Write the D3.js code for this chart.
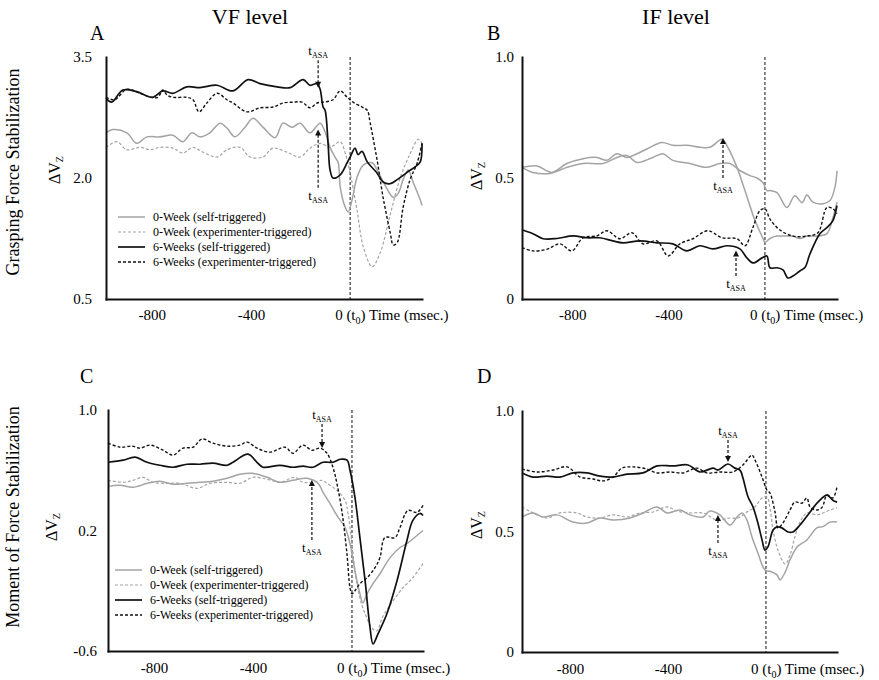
<!DOCTYPE html>
<html>
<head>
<meta charset="utf-8">
<script src="https://cdn.jsdelivr.net/npm/d3@7"></script>
<style>
    body { margin: 0; background: #fff; }
    svg, svg text, svg tspan { font-family: 'Liberation Serif', 'Times New Roman', Times, serif !important; }
    svg text { fill: #000; }
</style>
</head>
<body>
<svg id="chart" width="879" height="680" font-family="Liberation Serif, Times New Roman, serif"></svg>
<script>
// ---- data (time in msec, value in ΔVz units) ----
const columnTitles = ["VF level", "IF level"];
const rowTitles = ["Grasping Force Stabilization", "Moment of Force Stabilization"];
const panelLetters = ["A", "B", "C", "D"];
const legendLabels = ["0-Week (self-triggered)", "0-Week (experimenter-triggered)",
                      "6-Weeks (self-triggered)", "6-Weeks (experimenter-triggered)"];
const xTicks = [-800, -400];
const yTicksA = [0.5, 2.0, 3.5];
const yTicksB = [0, 0.5, 1.0];
const yTicksC = [-0.6, 0.2, 1.0];
const yTicksD = [0, 0.5, 1.0];

// panel A: VF level, grasping force
const aSelf0 = [[-985,2.56],[-958,2.6],[-901,2.56],[-861,2.43],[-820,2.51],[-768,2.51],[-715,2.53],[-675,2.45],[-638,2.56],[-606,2.51],[-566,2.56],[-525,2.68],[-497,2.62],[-465,2.51],[-424,2.63],[-392,2.74],[-352,2.63],[-303,2.5],[-271,2.68],[-234,2.63],[-202,2.68],[-162,2.56],[-121,2.68],[-101,2.57],[-81,2.38],[-61,2.26],[-48,2.19],[-40,1.89],[-20,1.64],[-8,1.58],[8,1.73],[28,2.01],[53,2.16],[89,2.19],[109,2.1],[141,1.91],[174,1.76],[194,1.81],[214,1.98],[234,2.1],[255,1.94],[283,1.73],[290,1.66]];
const aExp0 = [[-985,2.38],[-941,2.45],[-901,2.35],[-848,2.38],[-808,2.35],[-768,2.38],[-715,2.37],[-675,2.31],[-634,2.38],[-594,2.32],[-537,2.26],[-497,2.35],[-444,2.38],[-404,2.26],[-352,2.26],[-311,2.37],[-255,2.32],[-202,2.26],[-162,2.37],[-121,2.43],[-81,2.38],[-40,2.45],[-20,2.31],[0,2.06],[28,1.6],[53,1.15],[89,0.9],[121,1.07],[162,1.55],[202,2.0],[242,2.3],[275,2.48],[290,2.43]];
const aSelf6 = [[-985,2.99],[-962,2.94],[-917,3.09],[-861,3.07],[-796,3.0],[-756,3.08],[-715,3.05],[-659,3.13],[-606,3.12],[-537,3.15],[-473,3.08],[-412,3.22],[-364,3.17],[-295,3.13],[-242,3.12],[-190,3.22],[-162,3.15],[-133,3.17],[-121,3.1],[-109,2.88],[-101,2.84],[-89,2.43],[-81,2.1],[-69,2.0],[-40,2.04],[-12,2.19],[0,2.26],[20,2.37],[32,2.29],[48,2.33],[69,2.2],[109,2.06],[133,1.95],[162,1.93],[190,1.98],[230,2.07],[263,2.14],[283,2.2],[290,2.43]];
const aExp6 = [[-985,3.0],[-950,2.97],[-901,3.1],[-848,3.05],[-800,3.0],[-776,3.0],[-756,3.09],[-739,3.03],[-715,3.0],[-659,3.0],[-634,2.97],[-610,2.82],[-578,2.93],[-537,3.05],[-497,2.97],[-473,2.93],[-416,2.82],[-364,2.87],[-311,2.88],[-271,2.93],[-230,2.94],[-194,2.94],[-162,2.87],[-133,2.93],[-109,2.94],[-69,2.97],[-40,3.08],[-12,3.0],[12,2.94],[48,2.88],[69,2.84],[81,2.68],[109,2.22],[133,1.76],[162,1.32],[174,1.17],[190,1.2],[214,1.64],[242,1.98],[271,2.19],[290,2.43]];

// panel B: IF level, grasping force
const bSelf0 = [[-1008,0.544],[-946,0.55],[-884,0.523],[-822,0.56],[-755,0.58],[-697,0.585],[-656,0.573],[-614,0.6],[-573,0.585],[-531,0.6],[-490,0.62],[-427,0.647],[-382,0.635],[-324,0.635],[-270,0.627],[-228,0.627],[-178,0.66],[-154,0.627],[-116,0.544],[-83,0.448],[-41,0.324],[-8,0.25],[0,0.235],[21,0.25],[50,0.26],[91,0.26],[116,0.26],[145,0.25],[174,0.26],[216,0.26],[257,0.27],[282,0.336],[299,0.4]];
const bExp0 = [[-1008,0.544],[-963,0.523],[-892,0.519],[-822,0.544],[-755,0.56],[-672,0.56],[-614,0.585],[-573,0.593],[-531,0.564],[-465,0.585],[-423,0.6],[-382,0.573],[-311,0.56],[-241,0.544],[-187,0.56],[-145,0.56],[-104,0.531],[-62,0.51],[-33,0.5],[-8,0.48],[8,0.448],[21,0.448],[50,0.44],[91,0.378],[124,0.427],[154,0.398],[174,0.43],[199,0.4],[241,0.394],[270,0.407],[290,0.46],[299,0.53]];
const bSelf6 = [[-1008,0.286],[-963,0.27],[-921,0.249],[-863,0.25],[-797,0.261],[-739,0.253],[-685,0.253],[-631,0.24],[-589,0.232],[-519,0.24],[-448,0.232],[-382,0.228],[-324,0.199],[-270,0.22],[-216,0.207],[-158,0.22],[-104,0.207],[-75,0.17],[-50,0.149],[-12,0.17],[8,0.178],[21,0.129],[50,0.129],[75,0.12],[95,0.087],[116,0.095],[145,0.116],[166,0.13],[187,0.187],[228,0.27],[257,0.295],[282,0.324],[299,0.386]];
const bExp6 = [[-1008,0.212],[-963,0.199],[-905,0.205],[-851,0.228],[-801,0.199],[-755,0.253],[-697,0.261],[-656,0.282],[-602,0.249],[-552,0.274],[-506,0.228],[-448,0.24],[-402,0.178],[-353,0.228],[-299,0.249],[-237,0.282],[-178,0.253],[-116,0.249],[-83,0.22],[-50,0.295],[-21,0.365],[0,0.373],[21,0.33],[62,0.285],[116,0.26],[174,0.26],[220,0.274],[257,0.378],[282,0.373],[299,0.353]];

// panel C: VF level, moment of force
const cSelf0 = [[-986,0.493],[-937,0.5],[-885,0.487],[-828,0.513],[-776,0.527],[-723,0.507],[-667,0.513],[-614,0.52],[-562,0.527],[-505,0.547],[-453,0.573],[-404,0.58],[-343,0.553],[-291,0.52],[-238,0.533],[-182,0.547],[-137,0.513],[-117,0.453],[-89,0.38],[-61,0.3],[-28,0.22],[-8,0.113],[12,-0.067],[32,-0.22],[44,-0.28],[61,-0.22],[85,-0.153],[113,-0.087],[154,0.02],[194,0.087],[222,0.113],[263,0.167],[287,0.2]];
const cExp0 = [[-986,0.533],[-925,0.52],[-885,0.533],[-844,0.553],[-804,0.52],[-747,0.513],[-695,0.513],[-626,0.48],[-574,0.513],[-505,0.52],[-453,0.513],[-400,0.553],[-343,0.54],[-291,0.52],[-230,0.553],[-198,0.52],[-158,0.52],[-121,0.533],[-101,0.513],[-61,0.467],[-28,0.4],[-16,0.313],[0,0.113],[12,-0.067],[32,-0.247],[53,-0.353],[81,-0.447],[100,-0.467],[125,-0.37],[166,-0.267],[206,-0.18],[246,-0.113],[287,-0.02]];
const cSelf6 = [[-986,0.653],[-925,0.667],[-877,0.687],[-828,0.653],[-776,0.633],[-723,0.62],[-667,0.64],[-614,0.64],[-562,0.647],[-505,0.633],[-481,0.653],[-420,0.707],[-384,0.653],[-360,0.62],[-291,0.633],[-238,0.62],[-198,0.627],[-158,0.62],[-117,0.653],[-77,0.653],[-48,0.673],[-20,0.667],[-8,0.6],[12,0.42],[32,0.153],[53,-0.133],[73,-0.447],[85,-0.553],[105,-0.487],[141,-0.353],[182,-0.133],[222,0.133],[246,0.267],[275,0.313],[287,0.3]];
const cExp6 = [[-986,0.78],[-937,0.753],[-889,0.76],[-857,0.747],[-816,0.767],[-764,0.733],[-723,0.7],[-683,0.747],[-642,0.753],[-606,0.807],[-562,0.78],[-505,0.76],[-453,0.767],[-424,0.787],[-384,0.747],[-331,0.72],[-271,0.753],[-238,0.713],[-198,0.767],[-162,0.733],[-129,0.747],[-101,0.713],[-77,0.62],[-61,0.513],[-40,0.32],[-20,0.04],[-8,-0.18],[0,-0.22],[12,-0.2],[32,-0.153],[61,-0.113],[93,-0.047],[113,0.02],[133,0.153],[174,0.153],[194,0.22],[226,0.333],[263,0.32],[287,0.367]];

// panel D: IF level, moment of force
const dSelf0 = [[-996,0.56],[-951,0.577],[-910,0.56],[-853,0.569],[-788,0.539],[-731,0.535],[-678,0.556],[-624,0.548],[-555,0.556],[-502,0.577],[-445,0.602],[-404,0.577],[-351,0.589],[-310,0.569],[-257,0.56],[-229,0.585],[-188,0.569],[-147,0.527],[-118,0.56],[-98,0.577],[-78,0.548],[-57,0.477],[-33,0.411],[-4,0.34],[16,0.335],[45,0.32],[57,0.299],[78,0.33],[98,0.382],[127,0.436],[167,0.465],[208,0.515],[233,0.52],[261,0.539],[290,0.539]];
const dExp0 = [[-996,0.602],[-951,0.577],[-894,0.556],[-841,0.577],[-771,0.577],[-731,0.56],[-678,0.556],[-624,0.569],[-567,0.56],[-514,0.577],[-461,0.581],[-404,0.602],[-363,0.585],[-310,0.577],[-257,0.577],[-200,0.548],[-147,0.556],[-114,0.556],[-78,0.581],[-45,0.602],[-16,0.639],[4,0.643],[16,0.6],[29,0.506],[49,0.423],[78,0.365],[98,0.402],[118,0.477],[139,0.539],[167,0.577],[208,0.569],[233,0.577],[261,0.589],[290,0.598]];
const dSelf6 = [[-996,0.743],[-951,0.726],[-894,0.73],[-841,0.726],[-788,0.743],[-731,0.743],[-678,0.73],[-624,0.726],[-567,0.738],[-502,0.743],[-445,0.772],[-380,0.772],[-318,0.776],[-269,0.747],[-216,0.763],[-196,0.755],[-155,0.78],[-127,0.763],[-106,0.755],[-94,0.722],[-73,0.643],[-53,0.602],[-33,0.535],[-16,0.465],[-4,0.423],[8,0.436],[29,0.506],[45,0.519],[65,0.515],[90,0.498],[110,0.498],[139,0.527],[180,0.581],[212,0.622],[249,0.651],[273,0.63],[290,0.622]];
const dExp6 = [[-996,0.759],[-935,0.747],[-869,0.755],[-812,0.768],[-759,0.726],[-706,0.718],[-665,0.71],[-624,0.726],[-588,0.763],[-543,0.768],[-486,0.759],[-445,0.743],[-392,0.747],[-339,0.743],[-282,0.763],[-241,0.743],[-188,0.747],[-135,0.747],[-94,0.776],[-57,0.817],[-45,0.797],[-16,0.726],[4,0.672],[16,0.66],[37,0.581],[49,0.515],[69,0.535],[98,0.589],[118,0.622],[147,0.618],[167,0.639],[180,0.602],[208,0.589],[229,0.6],[249,0.651],[273,0.639],[290,0.685]];

// t_ASA markers: time, arrow tail value, arrow tip value
const arrowsA = [{t: -129, from: 3.46, to: 3.12}, {t: -129, from: 1.88, to: 2.6}];
const arrowsB = [{t: -174, from: 0.5, to: 0.665}, {t: -120, from: 0.095, to: 0.2}];
const arrowsC = [{t: -121, from: 0.907, to: 0.748}, {t: -162, from: 0.137, to: 0.535}];
const arrowsD = [{t: -155, from: 0.88, to: 0.788}, {t: -196, from: 0.452, to: 0.568}];

// ---- styles ----
const FONT = "'Liberation Serif', 'Times New Roman', Times, serif";
const GRAY = "#a4a4a4";
const STYLES = {
    self0: {color: GRAY, width: 1.5, dash: null},
    exp0: {color: GRAY, width: 1.2, dash: "3,2"},
    self6: {color: "#111", width: 1.7, dash: null},
    exp6: {color: "#111", width: 1.4, dash: "3,2"},
};
const LEGEND_KEYS = ["self0", "exp0", "self6", "exp6"];

const panels = [
    {letter: panelLetters[0], left: 106, right: 422, top: 57, bottom: 299,
     xDomain: [-985, 290], yDomain: [0.5, 3.5], yTicks: yTicksA, yPad: 14, xPad: 10,
     series: [[aExp0, "exp0"], [aSelf0, "self0"], [aExp6, "exp6"], [aSelf6, "self6"]],
     arrows: arrowsA, letterPos: [90, 40], dv: [55, 170], legend: [118, 217, 153]},
    {letter: panelLetters[1], left: 522, right: 837, top: 57, bottom: 299,
     xDomain: [-1008, 299], yDomain: [0, 1], yTicks: yTicksB, yPad: 8, xPad: 10,
     series: [[bExp0, "self0"], [bSelf0, "self0"], [bExp6, "exp6"], [bSelf6, "self6"]],
     arrows: arrowsB, letterPos: [487, 40], dv: [477, 176]},
    {letter: panelLetters[2], left: 108, right: 423, top: 410, bottom: 651,
     xDomain: [-986, 287], yDomain: [-0.6, 1.0], yTicks: yTicksC, yPad: 11, xPad: 11,
     series: [[cExp0, "exp0"], [cSelf0, "self0"], [cExp6, "exp6"], [cSelf6, "self6"]],
     arrows: arrowsC, letterPos: [80, 383], dv: [52, 527], legend: [115, 570, 150]},
    {letter: panelLetters[3], left: 522, right: 837, top: 411, bottom: 652,
     xDomain: [-996, 290], yDomain: [0, 1], yTicks: yTicksD, yPad: 8, xPad: 11,
     series: [[dExp0, "exp0"], [dSelf0, "self0"], [dExp6, "exp6"], [dSelf6, "self6"]],
     arrows: arrowsD, letterPos: [477, 383], dv: [477, 525]},
];

const svg = d3.select("#chart");

function label(parent, size) {
    return parent.append("text")
        .style("font-family", FONT)
        .attr("font-size", size)
        .attr("fill", "#000");
}

// column and row titles
[[250, columnTitles[0]], [676, columnTitles[1]]].forEach(([cx, txt]) => {
    label(svg, 22).attr("x", cx).attr("y", 24)
        .attr("text-anchor", "middle").text(txt);
});
[[172, rowTitles[0]], [517, rowTitles[1]]].forEach(([cy, txt]) => {
    label(svg, 18).attr("transform", `translate(19,${cy}) rotate(-90)`)
        .attr("text-anchor", "middle").text(txt);
});

function drawPanel(p) {
    const x = d3.scaleLinear().domain(p.xDomain).range([p.left, p.right]);
    const y = d3.scaleLinear().domain(p.yDomain).range([p.bottom, p.top]);
    const g = svg.append("g");

    label(g, 20).attr("x", p.letterPos[0]).attr("y", p.letterPos[1]).text(p.letter);

    // delta Vz label
    const dv = label(g, 16)
        .attr("transform", `translate(${p.dv[0] + 5},${p.dv[1]}) rotate(-90)`)
        .attr("text-anchor", "middle");
    dv.append("tspan").text("ΔV");
    dv.append("tspan").attr("font-size", 10).attr("dy", 3).text("Z");

    // t0 marker line
    g.append("line")
        .attr("x1", x(0)).attr("x2", x(0))
        .attr("y1", p.top).attr("y2", p.bottom)
        .attr("stroke", "#111").attr("stroke-width", 1)
        .attr("stroke-dasharray", "3,2");

    // curves
    const line = d3.line()
        .x(d => x(d[0]))
        .y(d => y(d[1]))
        .curve(d3.curveCatmullRom.alpha(0.5));

    p.series.forEach(([data, key]) => {
        const s = STYLES[key];
        g.append("path")
            .attr("d", line(data))
            .attr("fill", "none")
            .attr("stroke", s.color)
            .attr("stroke-width", s.width)
            .attr("stroke-dasharray", s.dash)
            .attr("stroke-linejoin", "round");
    });

    // t_ASA arrows
    p.arrows.forEach(a => {
        const ax = x(a.t), y0 = y(a.from), y1 = y(a.to);
        const dir = y1 > y0 ? 1 : -1;
        g.append("line")
            .attr("x1", ax).attr("x2", ax)
            .attr("y1", y0).attr("y2", y1 - dir * 5)
            .attr("stroke", "#111").attr("stroke-width", 1.2)
            .attr("stroke-dasharray", "3,2");
        g.append("path")
            .attr("d", `M${ax - 3},${y1 - dir * 6}L${ax + 3},${y1 - dir * 6}L${ax},${y1}Z`)
            .attr("fill", "#111");
        const ty = dir > 0 ? y0 - 5 : y0 + 12;
        const lab = label(g, 13).attr("x", ax).attr("y", ty).attr("text-anchor", "middle");
        lab.append("tspan").text("t");
        lab.append("tspan").attr("font-size", 8).attr("dy", 3).text("ASA");
    });

    // axes
    const ax = g.append("g")
        .attr("transform", `translate(0,${p.bottom})`)
        .call(d3.axisBottom(x).tickValues(xTicks).tickFormat(d => String(d))
            .tickSize(0).tickSizeOuter(0).tickPadding(p.xPad));
    const ay = g.append("g")
        .attr("transform", `translate(${p.left},0)`)
        .call(d3.axisLeft(y).tickValues(p.yTicks)
            .tickFormat(d => d === 0 ? "0" : d.toFixed(1))
            .tickSize(0).tickSizeOuter(0).tickPadding(p.yPad));
    [ax, ay].forEach(a => {
        a.attr("font-size", 15).attr("font-family", FONT);
        a.selectAll("text").style("font-family", FONT).attr("fill", "#000");
        a.select(".domain").attr("stroke", "#111").attr("stroke-width", 2)
            .attr("stroke-linecap", "square");
    });

    const t0 = label(g, 15)
        .attr("x", x(0) - 15).attr("y", p.bottom + p.xPad + 11);
    t0.append("tspan").text("0 (t");
    t0.append("tspan").attr("font-size", 10).attr("dy", 4).text("0");
    t0.append("tspan").attr("dy", -4).text(") Time (msec.)");

    // legend
    if (p.legend) {
        const [lx, ly, tx] = p.legend;
        LEGEND_KEYS.forEach((key, i) => {
            const s = STYLES[key];
            const yy = ly + i * 15;
            g.append("line")
                .attr("x1", lx).attr("x2", lx + 27)
                .attr("y1", yy).attr("y2", yy)
                .attr("stroke", s.color).attr("stroke-width", s.width)
                .attr("stroke-dasharray", s.dash);
            label(g, 12).attr("x", tx).attr("y", yy).attr("dy", "0.35em")
                .text(legendLabels[i]);
        });
    }
}

panels.forEach(drawPanel);
</script>
</body>
</html>
